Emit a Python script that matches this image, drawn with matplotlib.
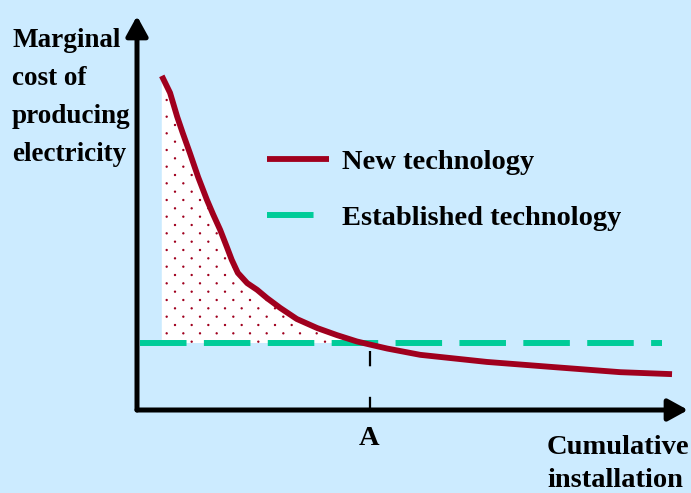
import matplotlib
matplotlib.use("Agg")
import matplotlib.pyplot as plt
import numpy as np
from matplotlib import hatch as mhatch
from matplotlib.path import Path

# Learning-curve sketch: cost of new vs. established technology (arbitrary units)
install = [4.5, 6.0, 7.3, 8.3, 9.6, 11.1, 12.7, 13.8, 15.1, 16.3, 17.2, 18.3,
           20.0, 21.8, 23.6, 26.0, 29.0, 32.7, 36.3, 39.9, 42.3, 45.4, 51.4,
           63.5, 75.5, 87.7, 97.1]
new_cost = [84.8, 80.5, 74.4, 70.3, 65.2, 59.1, 53.3, 49.7, 45.7, 41.4, 38.1,
            34.8, 32.2, 30.5, 28.4, 25.9, 23.1, 20.8, 19.0, 17.4, 16.6, 15.6,
            14.0, 12.2, 10.9, 9.6, 9.1]
established_cost = 17.0
established_span = [0.5, 95.3]
break_even = 42.2

labels = ["New technology", "Established technology"]
ylabel_text = "Marginal\ncost of\nproducing\nelectricity"
xlabel_text = "Cumulative\ninstallation"

BG = "#CCEBFF"
RED = "#A0001E"
GREEN = "#00CC99"


class FineDots(mhatch.HatchPatternBase):
    """'.' hatch with small staggered dots, rows twice as close as columns."""
    radius = 0.006

    def __init__(self, hatch, density):
        n = hatch.count(".") * density
        circle = Path.unit_circle()
        self.circle_v = circle.vertices
        self.circle_c = circle.codes
        self.centres = []
        if n:
            rows = 2 * n
            for r in range(rows + 1):
                if r % 2 == 0:
                    cols = np.linspace(0, 1, n + 1)
                else:
                    cols = np.linspace(0.5 / n, 1 - 0.5 / n, n)
                for c in cols:
                    self.centres.append((c, r / rows))
        self.num_vertices = len(self.centres) * len(self.circle_v)

    def set_vertices_and_codes(self, vertices, codes):
        k = len(self.circle_v)
        for i, (cx, cy) in enumerate(self.centres):
            vertices[i * k:(i + 1) * k] = self.circle_v * self.radius + (cx, cy)
            codes[i * k:(i + 1) * k] = self.circle_c


mhatch._hatch_types = [FineDots if t is mhatch.SmallFilledCircles else t
                       for t in mhatch._hatch_types]

plt.rcParams["lines.scale_dashes"] = False
plt.rcParams["hatch.linewidth"] = 0.8
plt.rcParams["font.family"] = ["Liberation Serif", "DejaVu Serif"]
plt.rcParams["font.weight"] = "bold"

W, H = 691, 493
fig = plt.figure(figsize=(W / 100, H / 100), dpi=100, facecolor=BG)
ax = fig.add_axes([137 / W, 83 / H, 551 / W, 394 / H])
ax.set_facecolor(BG)
ax.set_xlim(0, 100)
ax.set_ylim(0, 100)
ax.axis("off")

x = np.array(install)
y = np.array(new_cost)

# dotted area between the curves up to the break-even point
ax.fill_between(x, y, established_cost, where=y >= established_cost,
                interpolate=True, facecolor="white", edgecolor=RED,
                hatch=".", linewidth=0, zorder=1)

ax.plot(established_span, [established_cost] * 2, color=GREEN, lw=4.3,
        linestyle=(0, (33.5, 12.5)), solid_capstyle="butt",
        dash_capstyle="butt", label=labels[1], zorder=2)
ax.plot(x, y, color=RED, lw=4.2, solid_capstyle="butt",
        solid_joinstyle="round", label=labels[0], zorder=3)

# marker at A
ax.plot([break_even, break_even], [established_cost - 2, 0], color="black",
        lw=1.6, linestyle=(0, (11, 22)), clip_on=False, zorder=2)

# axes with arrows
arrow = dict(arrowstyle="-|>,head_length=0.6,head_width=0.33", lw=3.6,
             color="black", shrinkA=0, shrinkB=0, mutation_scale=20)
ax.annotate("", xy=(1.0, 0), xytext=(0, 0), xycoords="axes fraction",
            arrowprops=arrow, zorder=5)
ax.annotate("", xy=(0, 1.0), xytext=(0, 0), xycoords="axes fraction",
            arrowprops=arrow, zorder=5)

fs = 20.5
h, l = ax.get_legend_handles_labels()
order = [l.index(labels[0]), l.index(labels[1])]
ax.legend([h[i] for i in order], [l[i] for i in order], frameon=False,
          loc="upper left", bbox_to_anchor=(0.216, 0.69), fontsize=fs,
          handlelength=2.18, handletextpad=0.45, labelspacing=1.05,
          borderaxespad=0)

fig.text(12 / W, 1 - 28 / H, ylabel_text, ha="left", va="top",
         fontsize=19.5, linespacing=1.68)
ax.text(break_even, -4, "A", ha="center", va="top", fontsize=fs,
        clip_on=False)
fig.text(547 / W, 1 - 435 / H, xlabel_text, ha="left", va="top",
         fontsize=fs, linespacing=1.4)

fig.savefig("out.png", dpi=100, facecolor=BG)
